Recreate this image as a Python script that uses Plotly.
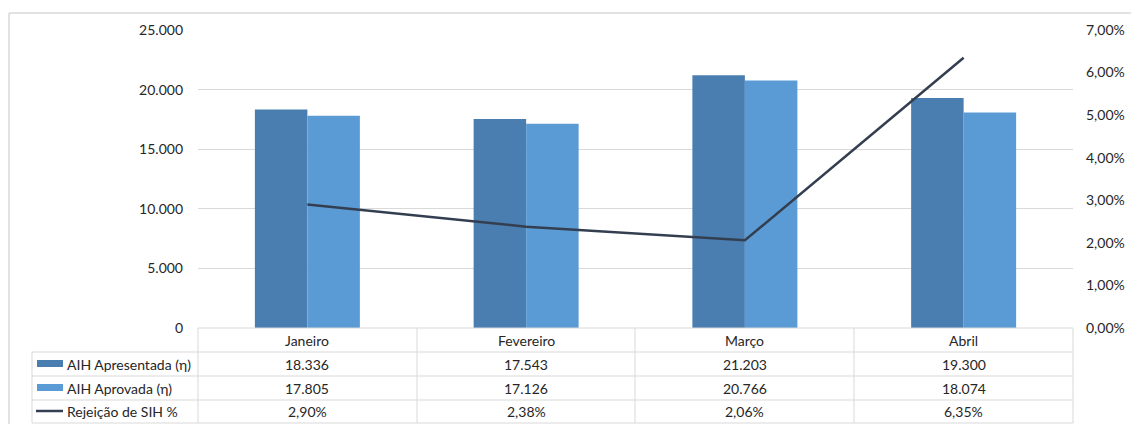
import plotly.graph_objects as go

months = ["Janeiro", "Fevereiro", "Março", "Abril"]
apresentada = [18336, 17543, 21203, 19300]
aprovada = [17805, 17126, 20766, 18074]
rejeicao = [0.0290, 0.0238, 0.0206, 0.0635]

series_names = ["AIH Apresentada (η)", "AIH Aprovada (η)", "Rejeição de SIH %"]

C_DARK = "#4A7EB0"
C_LIGHT = "#5B9BD5"
C_LINE = "#333F50"
GRID = "#D9D9D9"
TXT = "#262626"
FONT = "Lato"
FS = 14

W, H = 1131, 424
L, R, T, B = 198, 1073, 30, 328


def px(xp):
    return (xp - L) / (R - L)


def py(yp):
    return (B - yp) / (B - T)


def fmt_int(v):
    return f"{v:,}".replace(",", ".")


def fmt_pct(v):
    return f"{v*100:.2f}%".replace(".", ",")


fig = go.Figure()
fig.add_trace(go.Bar(x=months, y=apresentada, name=series_names[0], marker_color=C_DARK, marker_line_width=0))
fig.add_trace(go.Bar(x=months, y=aprovada, name=series_names[1], marker_color=C_LIGHT, marker_line_width=0))
fig.add_trace(go.Scatter(x=months, y=rejeicao, name=series_names[2], yaxis="y2", mode="lines",
                         line=dict(color=C_LINE, width=2.5)))

shapes = []
annotations = []

# Outer chart border (top and left)
shapes.append(dict(type="line", xref="paper", yref="paper", x0=px(9), x1=px(W), y0=py(13), y1=py(13),
                   line=dict(color=GRID, width=1.5)))
shapes.append(dict(type="line", xref="paper", yref="paper", x0=px(9), x1=px(9), y0=py(13), y1=py(H),
                   line=dict(color=GRID, width=1.5)))

# Data table grid
row_y = [328, 352, 376, 400, 423]
col_x = [198, 417, 635, 854, 1073]
lcol = 32
table_line = dict(color=GRID, width=1)
shapes.append(dict(type="line", xref="paper", yref="paper", x0=px(198), x1=px(1073), y0=py(328), y1=py(328), line=table_line))
for yv in row_y[1:]:
    shapes.append(dict(type="line", xref="paper", yref="paper", x0=px(lcol), x1=px(1073), y0=py(yv), y1=py(yv), line=table_line))
for xv in col_x:
    shapes.append(dict(type="line", xref="paper", yref="paper", x0=px(xv), x1=px(xv), y0=py(328), y1=py(423), line=table_line))
shapes.append(dict(type="line", xref="paper", yref="paper", x0=px(lcol), x1=px(lcol), y0=py(352), y1=py(423), line=table_line))

# Header labels
for i, m in enumerate(months):
    annotations.append(dict(x=i, xref="x", y=py(340), yref="paper", text=m, showarrow=False,
                            font=dict(family=FONT, size=FS, color=TXT), xanchor="center", yanchor="middle"))

rows = [[fmt_int(v) for v in apresentada], [fmt_int(v) for v in aprovada], [fmt_pct(v) for v in rejeicao]]
row_centers = [364, 388, 411.5]
for r, (vals, yc) in enumerate(zip(rows, row_centers)):
    for i, v in enumerate(vals):
        annotations.append(dict(x=i, xref="x", y=py(yc), yref="paper", text=v, showarrow=False,
                                font=dict(family=FONT, size=FS, color=TXT), xanchor="center", yanchor="middle"))
    annotations.append(dict(x=px(65), xref="paper", y=py(yc), yref="paper", text=series_names[r], showarrow=False,
                            font=dict(family=FONT, size=FS, color=TXT), xanchor="left", yanchor="middle"))

# legend keys in table
shapes.append(dict(type="rect", xref="paper", yref="paper", x0=px(37), x1=px(63), y0=py(360), y1=py(367),
                   fillcolor=C_DARK, line=dict(width=0)))
shapes.append(dict(type="rect", xref="paper", yref="paper", x0=px(37), x1=px(63), y0=py(384), y1=py(391),
                   fillcolor=C_LIGHT, line=dict(width=0)))
shapes.append(dict(type="line", xref="paper", yref="paper", x0=px(36), x1=px(63), y0=py(411), y1=py(411),
                   line=dict(color=C_LINE, width=2.5)))

fig.update_layout(
    width=W, height=H,
    margin=dict(l=L, r=W - R, t=T, b=H - B, pad=0, autoexpand=False),
    paper_bgcolor="white", plot_bgcolor="white",
    barmode="group", bargap=0.52, bargroupgap=0,
    showlegend=False,
    separators=",.",
    font=dict(family=FONT, size=FS, color=TXT),
    xaxis=dict(showticklabels=False, showgrid=False, showline=False, zeroline=False, ticks="", automargin=False),
    yaxis=dict(range=[0, 25000], dtick=5000, tickformat=",d", showgrid=True, gridcolor=GRID, gridwidth=1,
               zeroline=False, showline=False, ticks="", ticklabelstandoff=14, automargin=False,
               tickfont=dict(family=FONT, size=FS, color=TXT)),
    yaxis2=dict(range=[0, 0.07], dtick=0.01, tickformat=".2%", overlaying="y", side="right",
                showgrid=False, zeroline=False, showline=False, ticks="", ticklabelstandoff=12, automargin=False,
                tickfont=dict(family=FONT, size=FS, color=TXT)),
    shapes=shapes,
    annotations=annotations,
)

fig.write_html("out.html")
